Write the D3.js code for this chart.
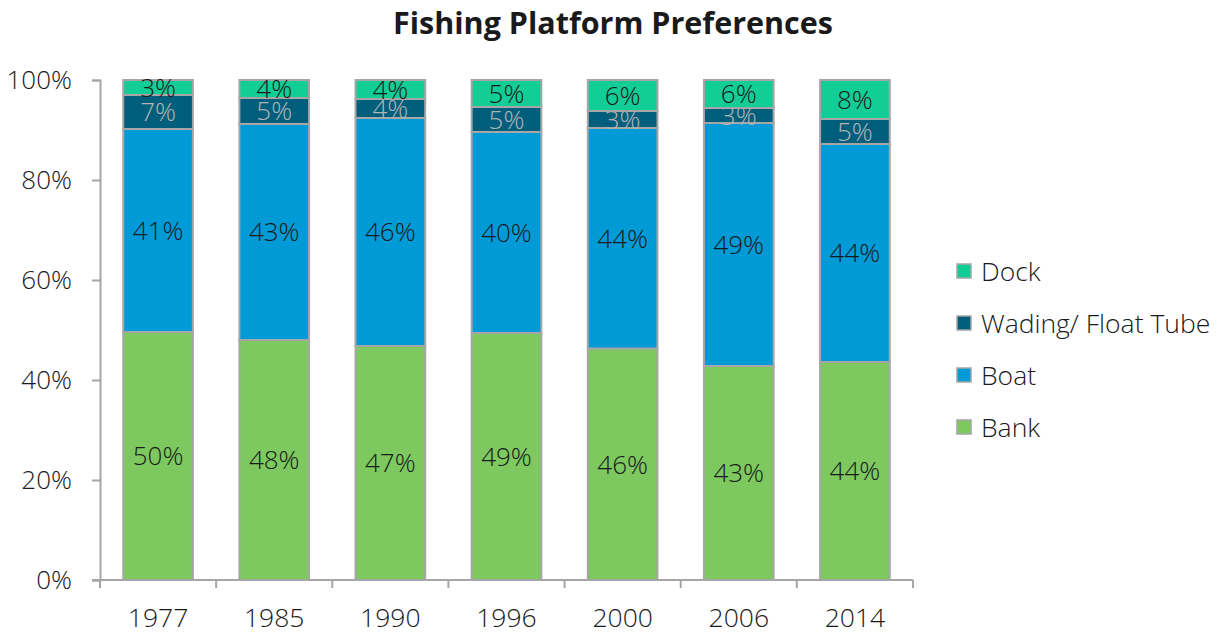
<!DOCTYPE html>
<html>
<head>
<meta charset="utf-8">
<script src="https://cdn.jsdelivr.net/npm/d3@7"></script>
<style>
  body { margin: 0; background: #fff; }
  text { font-family: "Open Sans", sans-serif; }
</style>
</head>
<body>
<svg id="chart" width="1217" height="635"></svg>
<script>
// data (percent of respondents)
const years = ["1977", "1985", "1990", "1996", "2000", "2006", "2014"];
const bank = [49.6, 48.0, 46.8, 49.4, 46.3, 42.8, 43.6];
const boat = [40.6, 43.2, 45.6, 40.2, 44.1, 48.6, 43.6];
const wading = [6.8, 5.2, 3.8, 5.0, 3.4, 3.0, 5.0];
const dock = [3.0, 3.6, 3.8, 5.4, 6.2, 5.6, 7.8];
const yTicks = [0, 20, 40, 60, 80, 100];

const series = [
  { name: "Bank", values: bank, fill: "#7dc95f", label: "#1a1a1a" },
  { name: "Boat", values: boat, fill: "#009bd6", label: "#1a1a1a" },
  { name: "Wading/ Float Tube", values: wading, fill: "#005e7d", label: "#b4b4b4" },
  { name: "Dock", values: dock, fill: "#12cd96", label: "#1a1a1a" }
];

const svg = d3.select("#chart");
const plotL = 100, plotR = 913, plotT = 80, plotB = 580;

const x = d3.scaleBand().domain(years).range([plotL, plotR]).paddingInner(0.4).paddingOuter(0.2);
const y = d3.scaleLinear().domain([0, 100]).range([plotB, plotT]);

// title
svg.append("text")
  .attr("x", 613).attr("y", 34)
  .attr("text-anchor", "middle")
  .attr("font-size", 30.5).attr("font-weight", 700)
  .attr("fill", "#1a1a1a")
  .text("Fishing Platform Preferences");

// stack the series
const rows = years.map((yr, i) => {
  let r = { year: yr };
  series.forEach(s => r[s.name] = s.values[i]);
  return r;
});
const stacked = d3.stack().keys(series.map(s => s.name))(rows);

const fmt = d3.format(".0f");

stacked.forEach((layer, li) => {
  const s = series[li];
  const g = svg.append("g");
  g.selectAll("rect").data(layer).enter().append("rect")
    .attr("x", d => x(d.data.year))
    .attr("width", x.bandwidth())
    .attr("y", d => y(d[1]))
    .attr("height", d => y(d[0]) - y(d[1]))
    .attr("fill", s.fill)
    .attr("stroke", "#a6a6a6")
    .attr("stroke-width", 2);
  g.selectAll("text").data(layer).enter().append("text")
    .attr("x", d => x(d.data.year) + x.bandwidth() / 2)
    .attr("y", d => (y(d[0]) + y(d[1])) / 2)
    .attr("dy", "0.36em")
    .attr("text-anchor", "middle")
    .attr("font-size", 26).attr("font-weight", 300)
    .attr("fill", s.label)
    .text(d => fmt(d[1] - d[0]) + "%");
});

// y axis
const yAxis = svg.append("g")
  .attr("transform", `translate(${plotL},0)`)
  .call(d3.axisLeft(y).tickValues(yTicks).tickSize(8).tickFormat(d => d + "%"));
yAxis.select(".domain").attr("stroke", "#a6a6a6").attr("stroke-width", 2);
yAxis.selectAll(".tick line").attr("stroke", "#a6a6a6").attr("stroke-width", 2);
yAxis.selectAll(".tick text")
  .attr("x", -28)
  .attr("font-size", 26).attr("font-weight", 300)
  .attr("fill", "#1a1a1a")
  .style("font-family", "'Open Sans', sans-serif");

// x axis with ticks between categories
const xAxis = svg.append("g").attr("transform", `translate(0,${plotB})`);
xAxis.append("line")
  .attr("x1", plotL - 8).attr("x2", plotR)
  .attr("stroke", "#a6a6a6").attr("stroke-width", 2);
const step = (plotR - plotL) / years.length;
xAxis.selectAll("line.tk").data(d3.range(years.length + 1)).enter().append("line")
  .attr("class", "tk")
  .attr("x1", i => plotL + i * step).attr("x2", i => plotL + i * step)
  .attr("y1", 0).attr("y2", 8)
  .attr("stroke", "#a6a6a6").attr("stroke-width", 2);
xAxis.selectAll("text").data(years).enter().append("text")
  .attr("x", d => x(d) + x.bandwidth() / 2)
  .attr("y", 46.5)
  .attr("text-anchor", "middle")
  .attr("font-size", 26.5).attr("font-weight", 300)
  .attr("fill", "#1a1a1a")
  .text(d => d);

// legend
const legendItems = series.slice().reverse();
const lg = svg.append("g").selectAll("g").data(legendItems).enter().append("g")
  .attr("transform", (d, i) => `translate(957,${271 + i * 52})`);
lg.append("rect")
  .attr("x", 0).attr("y", -7).attr("width", 14).attr("height", 14)
  .attr("fill", d => d.fill)
  .attr("stroke", "#a6a6a6").attr("stroke-width", 1.5);
lg.append("text")
  .attr("x", 24).attr("y", 0).attr("dy", "0.36em")
  .attr("font-size", 26.5).attr("font-weight", 300)
  .attr("fill", "#1a1a1a")
  .text(d => d.name);
</script>
</body>
</html>
